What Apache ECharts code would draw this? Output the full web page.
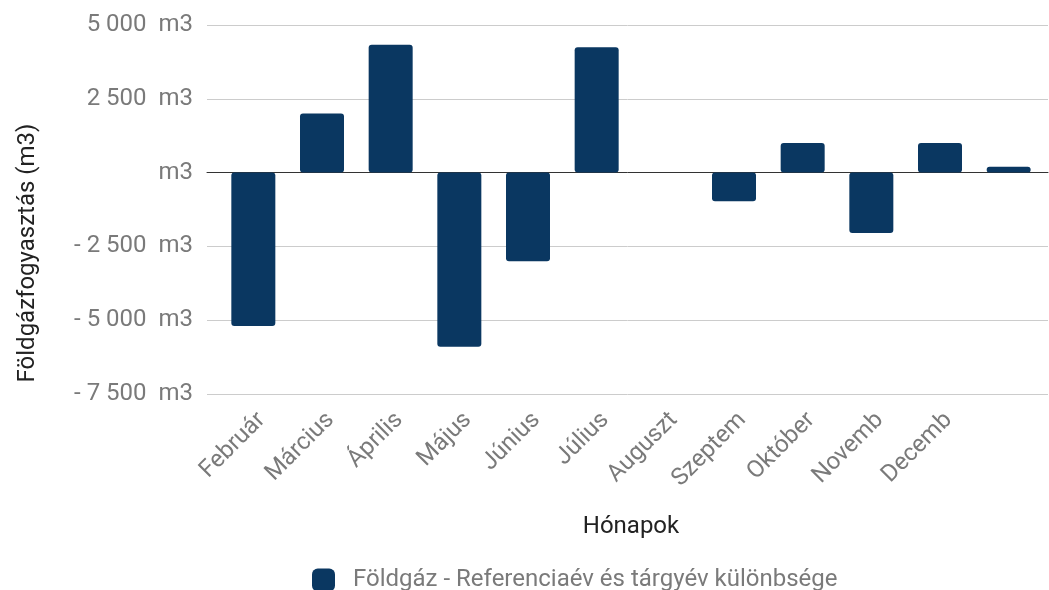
<!DOCTYPE html>
<html>
<head>
<meta charset="utf-8">
<script src="https://cdn.jsdelivr.net/npm/echarts@6/dist/echarts.min.js"></script>
<style>html,body{margin:0;padding:0;background:#fff}#c{width:1049px;height:590px}</style>
</head>
<body>
<div id="c"></div>
<script>
var categories = ['Február','Március','Április','Május','Június','Július','Auguszt','Szeptem','Október','Novemb','Decemb',''];
var values = [-5200, 2000, 4330, -5900, -3000, 4250, 0, -970, 1000, -2050, 1000, 200];
var yMin = -7500, yMax = 5000, yStep = 2500;
var seriesName = 'Földgáz - Referenciaév és tárgyév különbsége';
var xTitle = 'Hónapok';
var yTitle = 'Földgázfogyasztás (m3)';

function fmt(v){
  if (v === 0) return 'm3';
  var a = Math.abs(v);
  var s = String(a).replace(/\B(?=(\d{3})+(?!\d))/g, ' ');
  return (v < 0 ? '- ' : '') + s + '  m3';
}

var FONT = 'Roboto';
var LABEL = '#7a7a7a';
var chart = echarts.init(document.getElementById('c'));
chart.setOption({
  animation: false,
  textStyle: {fontFamily: FONT},
  grid: [
    {left: 207, right: 1, top: 25, bottom: 196},
    {left: 219, right: 6, top: 25, bottom: 196}
  ],
  xAxis: [
    {gridIndex: 0, type: 'value', min: 0, max: 1, axisLabel: {show: false}, axisTick: {show: false}, splitLine: {show: false},
     axisLine: {show: true, onZero: true, lineStyle: {color: '#333', width: 1}}},
    {gridIndex: 1, type: 'category', data: categories, position: 'bottom',
     axisLine: {show: false, onZero: false}, axisTick: {show: false},
     axisLabel: {rotate: 45, margin: 14, interval: 0, fontSize: 24, color: LABEL, fontFamily: FONT, verticalAlign: 'top'},
     name: xTitle, nameLocation: 'middle', nameGap: 121, nameTextStyle: {fontSize: 24, color: '#222', fontFamily: FONT}}
  ],
  yAxis: [
    {gridIndex: 0, type: 'value', min: yMin, max: yMax, interval: yStep,
     axisLine: {show: false}, axisTick: {show: false},
     axisLabel: {margin: 14, fontSize: 24, color: LABEL, fontFamily: FONT, formatter: fmt},
     splitLine: {show: true, lineStyle: {color: '#cccccc', width: 1}}},
    {gridIndex: 1, type: 'value', min: yMin, max: yMax, interval: yStep, show: false, splitLine: {show: false}}
  ],
  legend: {
    left: 307, top: 563, itemWidth: 23, itemHeight: 23, icon: 'roundRect',
    textStyle: {fontSize: 24, color: LABEL, fontFamily: FONT, padding: [0,0,0,13]},
    data: [seriesName]
  },
  graphic: [{
    type: 'text', x: 28, y: 253, rotation: Math.PI/2,
    style: {text: yTitle, fontSize: 24, fill: '#222', fontFamily: FONT, align: 'center', verticalAlign: 'middle'}
  }],
  series: [{
    name: seriesName, type: 'bar', xAxisIndex: 1, yAxisIndex: 1, data: values,
    barWidth: 44, itemStyle: {color: '#0a3761', borderRadius: 3}
  }]
});
</script>
</body>
</html>
